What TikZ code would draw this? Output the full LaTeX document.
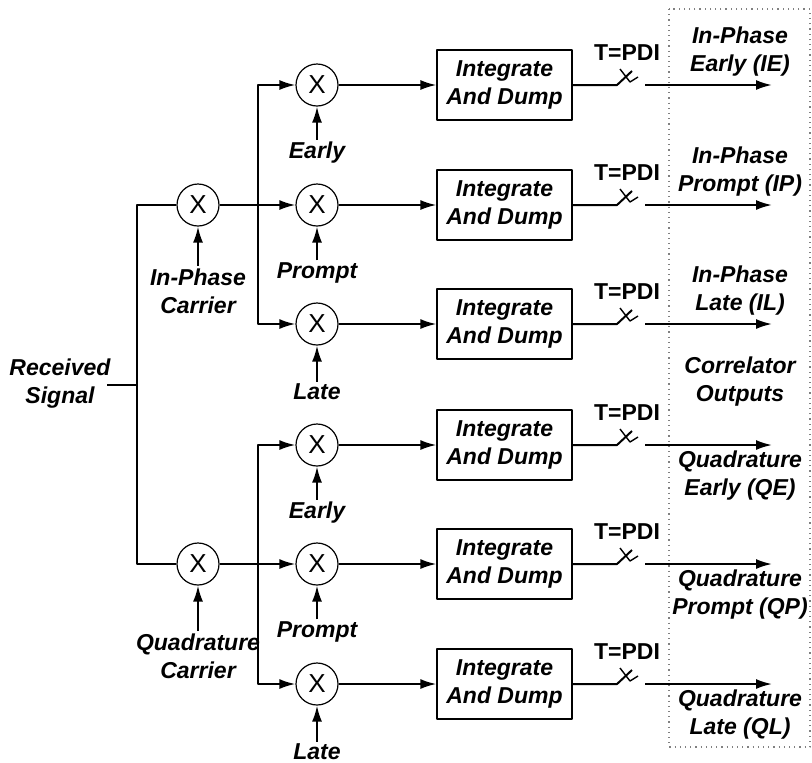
\documentclass[tikz,border=0pt]{standalone}
\usepackage{fontspec}
\setmainfont{Liberation Sans}
\usetikzlibrary{positioning,arrows.meta}

\begin{document}
\begin{tikzpicture}[x=0.5pt, y=-0.5pt, >={Latex[length=8pt,width=5pt]}, line join=round,
		lbl/.style={font=\fontsize{11.5}{14}\selectfont\bfseries\itshape, align=center, inner sep=1pt},
		pdi/.style={font=\fontsize{11.5}{14}\selectfont\bfseries, inner sep=1pt},
		mixer/.style={circle, draw, line width=0.6pt, minimum size=21pt, inner sep=0pt, font=\fontsize{13}{13}\selectfont},
		idbox/.style={draw, line width=0.6pt, minimum width=67.5pt, minimum height=35pt, align=center,
			font=\fontsize{11.5}{14}\selectfont\bfseries\itshape},
		wire/.style={line width=1pt}]
		\useasboundingbox (0,0) rectangle (812,762);
		
		% correlator outputs frame
		\draw[gray, dotted, line width=0.6pt] (669,9) rectangle (810,747);
		\node[lbl] (corr) at (740,382) {Correlator\\Outputs};
		
		% six correlator arms
		\foreach \nm/\yy/\sig/\out/\pos in {
			ie/85/Early/{In-Phase\\Early (IE)}/-33,
			ip/205/Prompt/{In-Phase\\Prompt (IP)}/-33,
			il/324/Late/{In-Phase\\Late (IL)}/-33,
			qe/445/Early/{Quadrature\\Early (QE)}/31,
			qp/564/Prompt/{Quadrature\\Prompt (QP)}/31,
			ql/684/Late/{Quadrature\\Late (QL)}/31}{
			\node[mixer] (m\nm) at (317,\yy) {X};
			\node[lbl] (s\nm) at (317,\yy+68) {\sig};
			\draw[wire,->] (s\nm) -- (m\nm);
			\node[idbox] (d\nm) at (504.5,\yy) {Integrate\\And Dump};
			\draw[wire,->] (m\nm) -- (d\nm);
			\coordinate (w\nm) at (617,\yy);
			\draw[wire] (d\nm) -- (w\nm) -- ++(15,-14);
			\draw[line width=0.7pt] (w\nm) ++(3,-16) -- ++(10,13) -- ++(8,-5);
			\node[pdi] (t\nm) at (627,\yy-32) {T=PDI};
			\coordinate (o\nm) at (645,\yy);
			\coordinate (e\nm) at (772,\yy);
			\draw[wire,->] (o\nm) -- (e\nm);
			\node[lbl] (l\nm) at (740,\yy+\pos) {\out};
		}
		
		% carrier mixers
		\node[mixer] (ci) at (198,205) {X};
		\node[mixer] (cq) at (198,564) {X};
		\node[lbl] (cil) at (198,291) {In-Phase\\Carrier};
		\node[lbl] (cql) at (198,656) {Quadrature\\Carrier};
		\draw[wire,->] (cil) -- (ci);
		\draw[wire,->] (cql) -- (cq);
		
		% received signal
		\node[lbl] (rx) at (60,384) {Received\\Signal};
		\coordinate (rxend) at (107,385);
		\coordinate (ji) at (137,385);
		\draw[wire] (rxend) -- (ji);
		\draw[wire] (ci) -| (ji) |- (cq);
		
		% branches to early / prompt / late
		\coordinate (bi) at (258,205);
		\coordinate (bq) at (258,564);
		\draw[wire,->] (ci) -- (mip);
		\draw[wire,->] (bi) |- (mie);
		\draw[wire,->] (bi) |- (mil);
		\draw[wire,->] (cq) -- (mqp);
		\draw[wire,->] (bq) |- (mqe);
		\draw[wire,->] (bq) |- (mql);
	\end{tikzpicture}
\end{document}
